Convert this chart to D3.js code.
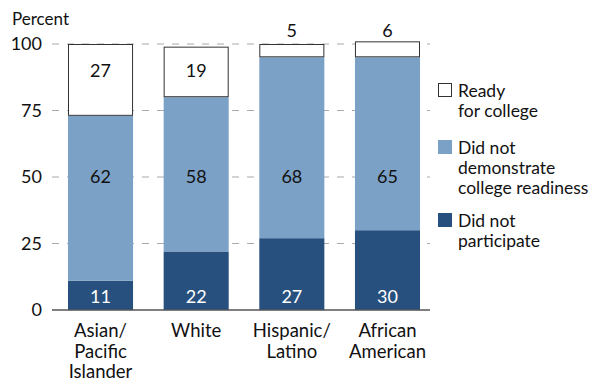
<!DOCTYPE html>
<html>
<head>
<meta charset="utf-8">
<script src="https://cdn.jsdelivr.net/npm/d3@7"></script>
<style>
  body { margin: 0; background: #fff; }
  svg text { font-family: Lato, "Noto Sans", sans-serif; }
</style>
</head>
<body>
<svg id="chart" width="600" height="383"></svg>
<script>
// Student groups (multi-line labels)
const groups = [
  ["Asian/", "Pacific", "Islander"],
  ["White"],
  ["Hispanic/", "Latino"],
  ["African", "American"]
];
// Percent of students in each readiness category
const notParticipate = [11, 22, 27, 30];
const notReady = [62, 58, 68, 65];
const ready = [27, 19, 5, 6];
const yTicks = [0, 25, 50, 75, 100];

const legendItems = [
  { lines: ["Ready", "for college"], fill: "#fff", stroke: "#333" },
  { lines: ["Did not", "demonstrate", "college readiness"], fill: "#7ba1c6", stroke: "none" },
  { lines: ["Did not", "participate"], fill: "#27507f", stroke: "none" }
];

const svg = d3.select("#chart");
const plotLeft = 52, plotRight = 430, plotTop = 44, plotBottom = 310;

const x = d3.scaleBand()
  .domain(d3.range(groups.length))
  .range([68, 420])
  .paddingInner(0.32)
  .paddingOuter(0);
const y = d3.scaleLinear().domain([0, 100]).range([plotBottom, plotTop]);
const bw = x.bandwidth();

// Dashed gridlines
svg.append("g").selectAll("line")
  .data(yTicks.filter(d => d > 0))
  .join("line")
  .attr("x1", plotLeft).attr("x2", plotRight)
  .attr("y1", d => y(d)).attr("y2", d => y(d))
  .attr("stroke", "#aaa").attr("stroke-width", 1.2)
  .attr("stroke-dasharray", "7,8");

// Y tick labels
svg.append("g").selectAll("text")
  .data(yTicks)
  .join("text")
  .attr("x", 42).attr("y", d => y(d))
  .attr("dy", "0.35em")
  .attr("text-anchor", "end")
  .attr("font-size", 18)
  .attr("fill", "#111")
  .text(d => d);

svg.append("text")
  .attr("x", 12).attr("y", 25)
  .attr("font-size", 17)
  .attr("fill", "#111")
  .text("Percent");

// Stack the three categories bottom-up
const rows = groups.map((g, i) => ({ i, np: notParticipate[i], nr: notReady[i], rd: ready[i] }));
const series = d3.stack().keys(["np", "nr", "rd"])(rows);
const fills = { np: "#27507f", nr: "#7ba1c6", rd: "#fff" };

const bars = svg.append("g");
series.forEach(s => {
  const isReady = s.key === "rd";
  bars.append("g").selectAll("rect").data(s).join("rect")
    .attr("x", d => x(d.data.i) + (isReady ? 0.5 : 0))
    .attr("width", isReady ? bw - 1 : bw)
    .attr("y", d => y(d[1]) + (isReady ? 0.5 : 0))
    .attr("height", d => y(d[0]) - y(d[1]) - (isReady ? 1 : 0))
    .attr("fill", fills[s.key])
    .attr("stroke", isReady ? "#333" : "none")
    .attr("stroke-width", 1);
});

// Value labels
const lab = svg.append("g").attr("font-size", 18).attr("text-anchor", "middle");
lab.selectAll(".lnp").data(notParticipate).join("text")
  .attr("x", (d, i) => x(i) + bw / 2).attr("y", y(5)).attr("dy", "0.35em")
  .attr("fill", "#fff").text(d => d);
lab.selectAll(".lnr").data(notReady).join("text")
  .attr("x", (d, i) => x(i) + bw / 2).attr("y", y(50)).attr("dy", "0.35em")
  .attr("fill", "#111").text(d => d);
lab.selectAll(".lrd").data(ready).join("text")
  .attr("x", (d, i) => x(i) + bw / 2)
  .attr("y", d => d >= 10 ? y(90) : y(105))
  .attr("dy", "0.35em")
  .attr("fill", "#111").text(d => d);

// Baseline
svg.append("line")
  .attr("x1", plotLeft).attr("x2", plotRight)
  .attr("y1", y(0)).attr("y2", y(0))
  .attr("stroke", "#555").attr("stroke-width", 1.5);

// Category labels
svg.append("g").selectAll("text")
  .data(groups)
  .join("text")
  .attr("x", (d, i) => x(i) + bw / 2)
  .attr("y", 337)
  .attr("text-anchor", "middle")
  .attr("font-size", 18.5)
  .attr("fill", "#111")
  .each(function (d) {
    const cx = d3.select(this).attr("x");
    d3.select(this).selectAll("tspan").data(d).join("tspan")
      .attr("x", cx)
      .attr("dy", (t, j) => j === 0 ? 0 : 20.5)
      .text(t => t);
  });

// Legend
const legendTop = [83, 140, 213];
const lg = svg.append("g");
legendItems.forEach((item, k) => {
  const g = lg.append("g").attr("transform", `translate(438,${legendTop[k]})`);
  const boxed = item.stroke !== "none";
  g.append("rect")
    .attr("x", boxed ? 0.5 : 0).attr("y", boxed ? 0.5 : 0)
    .attr("width", boxed ? 13 : 14).attr("height", boxed ? 13 : 14)
    .attr("fill", item.fill).attr("stroke", item.stroke);
  g.append("text")
    .attr("x", 20).attr("y", 14)
    .attr("font-size", 17.5).attr("fill", "#111")
    .selectAll("tspan").data(item.lines).join("tspan")
    .attr("x", 20).attr("dy", (t, j) => j === 0 ? 0 : 20)
    .text(t => t);
});
</script>
</body>
</html>
